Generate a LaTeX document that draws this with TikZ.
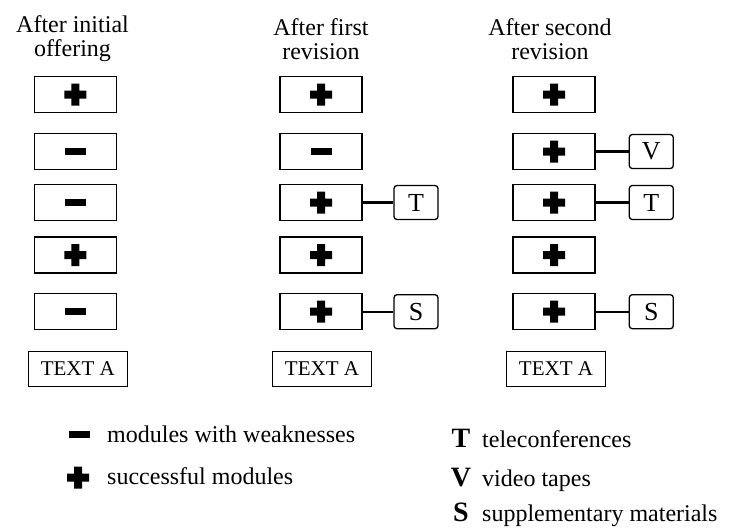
\documentclass[tikz,border=0pt]{standalone}
\usepackage{fontspec}
\setmainfont{Liberation Serif}
\newcommand\crossmark{(-4,-11) -- (4,-11) -- (4,-4) -- (11,-4) -- (11,4) -- (4,4) -- (4,11) -- (-4,11) -- (-4,4) -- (-11,4) -- (-11,-4) -- (-4,-4) -- cycle}
\newcommand\dashmark{(-10.5,-3.5) rectangle (10.5,3.5)}
\tikzset{
  module/.style={draw, line width=1.3pt, minimum width=82pt, minimum height=36pt, inner sep=0pt},
  good/.style={path picture={\fill[shift={(path picture bounding box.center)}] \crossmark;}},
  weak/.style={path picture={\fill[shift={(path picture bounding box.center)}] \dashmark;}},
  extra/.style={draw, line width=1.3pt, rounded corners=3pt, minimum width=44pt, minimum height=34pt, inner sep=0pt, font=\fontsize{26}{26}\selectfont},
  textbox/.style={draw, line width=1.3pt, minimum width=99pt, minimum height=35pt, inner sep=0pt, font=\fontsize{21}{21}\selectfont},
  head/.style={align=center, font=\fontsize{24}{24}\selectfont},
  legend/.style={anchor=base west, inner sep=0pt, font=\fontsize{24}{24}\selectfont},
  key/.style={anchor=base, inner sep=0pt, font=\fontsize{28}{28}\selectfont\bfseries},
  sign/.style={minimum size=24pt, inner sep=0pt},
  link/.style={line width=2.2pt}
}
\begin{document}
\begin{tikzpicture}[x=1pt,y=-1pt]
  \useasboundingbox (0,0) rectangle (741,528);
  % after initial offering
  \node[head] (ihead) at (72.5,39) {After initial\\offering};
  \node[module,good] (i1) at (75.3,94.7) {};
  \node[module,weak] (i2) at (75.3,151.5) {};
  \node[module,weak] (i3) at (75.3,202.5) {};
  \node[module,good] (i4) at (75.3,255) {};
  \node[module,weak] (i5) at (75.3,311.7) {};
  \node[textbox] (iA) at (77.8,369) {TEXT A};
  %--
  % after first revision
  \node[head] (fhead) at (321,39) {After first\\revision};
  \node[module,good] (f1) at (321,94.7) {};
  \node[module,weak] (f2) at (321,151.5) {};
  \node[module,good] (f3) at (321,202.5) {};
  \node[module,good] (f4) at (321,255) {};
  \node[module,good] (f5) at (321,311.7) {};
  \node[textbox] (fA) at (322,369) {TEXT A};
  \node[extra] (fT) at (416,202.5) {T};
  \node[extra] (fS) at (416,311.7) {S};
  \draw[link] (f3) -- (fT);
  \draw[link] (f5) -- (fS);
  %--
  % after second revision
  \node[head] (shead) at (550,39) {After second\\revision};
  \node[module,good] (s1) at (554,94.7) {};
  \node[module,good] (s2) at (554,151.5) {};
  \node[module,good] (s3) at (554,202.5) {};
  \node[module,good] (s4) at (554,255) {};
  \node[module,good] (s5) at (554,311.7) {};
  \node[textbox] (sA) at (556,369) {TEXT A};
  \node[extra] (sV) at (651.3,151.5) {V};
  \node[extra] (sT) at (651.3,202.5) {T};
  \node[extra] (sS) at (651.3,311.7) {S};
  \draw[link] (s2) -- (sV);
  \draw[link] (s3) -- (sT);
  \draw[link] (s5) -- (sS);
  %--
  % legend
  \node[sign,weak] (lweak) at (79,434) {};
  \node[legend] (tweak) at (107,442.7) {modules with weaknesses};
  \node[sign,good] (lgood) at (78,477.7) {};
  \node[legend] (tgood) at (107,484) {successful modules};
  \node[key] (kT) at (461,447) {T};
  \node[legend] (tT) at (482,447) {teleconferences};
  \node[key] (kV) at (461,486) {V};
  \node[legend] (tV) at (482,486) {video tapes};
  \node[key] (kS) at (461,521) {S};
  \node[legend] (tS) at (482,521) {supplementary materials};
\end{tikzpicture}
\end{document}
